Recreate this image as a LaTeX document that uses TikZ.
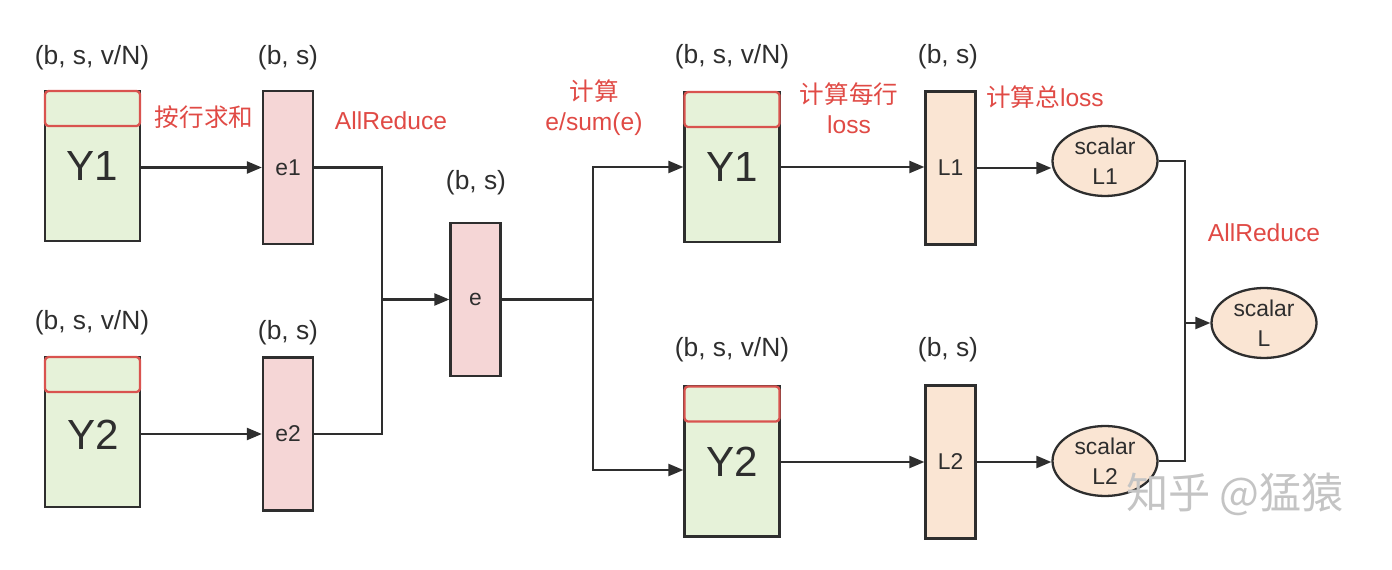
\documentclass[tikz,border=0pt]{standalone}
\usepackage{fontspec}
\setmainfont{Liberation Sans}
\newfontfamily\cjk{Noto Sans CJK SC}
\usetikzlibrary{arrows.meta,shapes.geometric}
\definecolor{ygreen}{HTML}{E6F2D9}
\definecolor{epink}{HTML}{F5D6D6}
\definecolor{lpeach}{HTML}{FAE5D3}
\definecolor{redtxt}{HTML}{E04A45}
\definecolor{redline}{HTML}{D9534F}
\definecolor{edge}{HTML}{2E2E2E}
\definecolor{wmgray}{HTML}{C4C4C4}
\tikzset{
  ybox/.style={draw=edge, line width=1.3pt, fill=ygreen, minimum width=1.9cm,
    minimum height=3cm, inner sep=0pt, font=\fontsize{24}{28}\selectfont, text=edge},
  topband/.style={draw=redline, line width=1.3pt, fill=ygreen, rounded corners=2pt,
    minimum width=1.9cm, minimum height=0.7cm, inner sep=0pt, anchor=north},
  ebox/.style={draw=edge, line width=1.3pt, fill=epink, minimum width=1cm,
    minimum height=3.06cm, inner sep=0pt, font=\fontsize{13}{16}\selectfont, text=edge},
  lbox/.style={ebox, fill=lpeach},
  scal/.style={ellipse, draw=edge, line width=1.3pt, fill=lpeach, minimum width=2.1cm,
    minimum height=1.4cm, inner sep=0pt, align=center, text=edge,
    font=\fontsize{13}{17}\selectfont},
  dim/.style={font=\fontsize{15}{18}\selectfont, text=edge},
  note/.style={font=\fontsize{14}{17}\selectfont, text=redtxt, align=center},
  wire/.style={draw=edge, line width=1.3pt},
  arr/.style={wire, -{Triangle[length=0.3cm, width=0.24cm]}}
}
\begin{document}
\begin{tikzpicture}[x=0.02cm, y=-0.02cm]
  \useasboundingbox (0,0) rectangle (1392,570);
  % tensors
  \node[ybox] (y1a) at (92.5,166) {Y1};
  \node[topband] (y1aband) at (y1a.north) {};
  \node[ybox] (y2a) at (92.5,432) {};
  \node[topband] (y2aband) at (y2a.north) {};
  \node at (93,435) [font=\fontsize{24}{28}\selectfont, text=edge] (y2alabel) {Y2};
  \node[ebox] (e1) at (288,167.5) {e1};
  \node[ebox] (e2) at (288,434) {e2};
  \node[ebox] (e) at (475.5,299.5) {e};
  \node[ybox] (y1b) at (732,167) {Y1};
  \node[topband] (y1bband) at (y1b.north) {};
  \node[ybox] (y2b) at (732,461.5) {Y2};
  \node[topband] (y2bband) at (y2b.north) {};
  \node[lbox] (l1) at (950.5,168) {L1};
  \node[lbox] (l2) at (950.5,462) {L2};
  \node[scal] (sl1) at (1105,161) {scalar\\L1};
  \node[scal] (sl2) at (1105,461) {scalar\\L2};
  \node[scal] (sl) at (1264,323) {scalar\\L};
  % shapes
  \node[dim] (d1) at (92,58) {(b, s, v/N)};
  \node[dim] (d2) at (288,58) {(b, s)};
  \node[dim] (d3) at (92,323) {(b, s, v/N)};
  \node[dim] (d4) at (288,333) {(b, s)};
  \node[dim] (d5) at (476,183) {(b, s)};
  \node[dim] (d6) at (732,57) {(b, s, v/N)};
  \node[dim] (d7) at (948,57) {(b, s)};
  \node[dim] (d8) at (732,350) {(b, s, v/N)};
  \node[dim] (d9) at (948,350) {(b, s)};
  % steps
  \node[note] (n1) at (204,117) {\cjk 按行求和};
  \node[note] (n2) at (391,121) {AllReduce};
  \node[note] (n3) at (594,108) {{\cjk 计算}\\e/sum(e)};
  \node[note] (n4) at (849,108) {{\cjk 计算每行}\\loss};
  \node[note] (n5) at (1045,97) {{\cjk 计算总}loss};
  \node[note] (n6) at (1264,233) {AllReduce};
  \node[text=wmgray, font=\cjk\fontsize{24}{28}\selectfont] (wm) at (1235,494) {知乎 @猛猿};
  % connectors
  \coordinate (join1) at (382,299.5);
  \coordinate (split) at (593,299.5);
  \coordinate (join2) at (1185,323);
  \begin{scope}
    \draw[arr] (y1a.east |- e1) -- (e1.west);
    \draw[arr] (y2a.east |- e2) -- (e2.west);
    \draw[wire] (e1.east) -| (join1);
    \draw[wire] (e2.east) -| (join1);
    \draw[arr] (join1) -- (e.west);
    \draw[wire] (e.east) -- (split);
    \draw[arr] (split) |- (y1b.west);
    \draw[arr] (split) |- ([yshift=-0.17cm]y2b.west);
    \draw[arr] (y1b.east) -- (l1.west |- y1b.east);
    \draw[arr] (y2b.east |- l2) -- (l2.west);
    \draw[arr] (l1.east) -- (l1.east -| sl1.west);
    \draw[arr] (l2.east) -- (l2.east -| sl2.west);
    \draw[wire] (sl1.east) -| (join2);
    \draw[wire] (sl2.east) -| (join2);
    \draw[arr] (join2) -- (sl.west);
  \end{scope}
\end{tikzpicture}
\end{document}
